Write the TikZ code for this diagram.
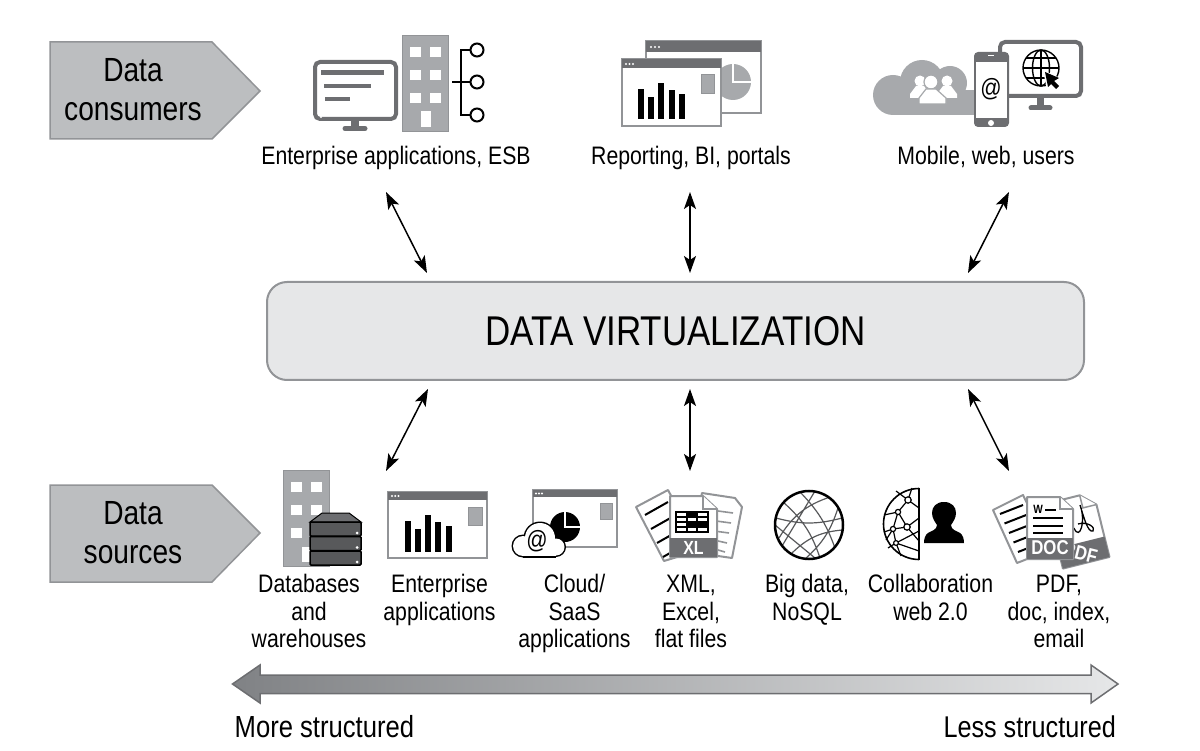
\documentclass[tikz,border=0pt]{standalone}
\usepackage{fontspec}
\setmainfont{Liberation Sans}[FakeStretch=0.84]
\usetikzlibrary{arrows.meta}
\definecolor{lg}{HTML}{A7A9AC}
\definecolor{pg}{HTML}{BCBEC0}
\definecolor{mg}{HTML}{929497}
\definecolor{dg}{HTML}{6D6E71}
\definecolor{vd}{HTML}{58595B}
\definecolor{bx}{HTML}{E6E7E8}
\definecolor{sh}{HTML}{808285}
\tikzset{
 x=1pt,y=-1pt,
 lbl/.style={align=center,inner sep=0pt,font=\fontsize{25.3}{27.5}\selectfont,text=black},
 head/.style={align=center,inner sep=0pt,font=\fontsize{33.5}{39}\selectfont,text=black},
 tag/.style={draw=mg,fill=pg,line width=1.5pt},
 dbl/.style={{Stealth[length=17pt,width=12pt,inset=4pt]}-{Stealth[length=17pt,width=12pt,inset=4pt]},line width=1.5pt,black},
 win/.style={draw=mg,fill=white,line width=2pt},
 wh/.style={fill=white},
 paper/.style={draw=mg,fill=white,line width=2pt,line join=round},
 ink/.style={line width=2pt,black},
 mon/.style={draw=dg,fill=white,line width=4pt,rounded corners=5pt},
 stand/.style={dg,line width=5pt,line cap=round},
}
\newcommand\appwin[5]{\draw[win] (#1,#2) rectangle (#3,#4);\fill[dg] (#1,#2) rectangle (#3,#5);}
\newcommand\tdots[3]{\foreach \k in {0,1,2}{\fill[white] ({#1+\k*#3},#2) circle (1.1);}}
\begin{document}
\begin{tikzpicture}
\useasboundingbox (0,0) rectangle (1200,751);
% tags
\draw[tag] (50,42) -- (212,42) -- (260,91) -- (212,139) -- (50,139) -- cycle;
\node[head] (tagc) at (133,90) {Data\\consumers};
\draw[tag] (50,485) -- (212,485) -- (260,533) -- (212,582) -- (50,582) -- cycle;
\node[head] (tags) at (133,532.5) {Data\\sources};
% main box
\node[draw=mg,fill=bx,line width=2pt,rounded corners=20pt,minimum width=817pt,minimum height=98pt,inner sep=0pt,font=\fontsize{41.6}{41.6}\selectfont] (dv) at (675.5,331) {DATA VIRTUALIZATION};
% connectors
\coordinate (a1) at (386,192);\coordinate (a2) at (427,273);
\coordinate (b1) at (690,192);\coordinate (b2) at (690,273);
\coordinate (c1) at (1009,192);\coordinate (c2) at (968,273);
\coordinate (d1) at (428,389);\coordinate (d2) at (386,471);
\coordinate (e1) at (690,389);\coordinate (e2) at (690,471);
\coordinate (f1) at (968,389);\coordinate (f2) at (1009,471);
\draw[dbl] (a1) -- (a2);\draw[dbl] (b1) -- (b2);\draw[dbl] (c1) -- (c2);
\draw[dbl] (d1) -- (d2);\draw[dbl] (e1) -- (e2);\draw[dbl] (f1) -- (f2);
% labels
\node[lbl] (l1) at (396,159) {\strut Enterprise applications, ESB};
\node[lbl] (l2) at (691,159) {\strut Reporting, BI, portals};
\node[lbl] (l3) at (986,159) {\strut Mobile, web, users};
\node[lbl] (s1) at (309,614.5) {\strut Databases\\and\\warehouses\strut};
\node[lbl] (s2) at (439.5,601) {\strut Enterprise\\applications\strut};
\node[lbl] (s3) at (574.5,614.5) {\strut Cloud/\\SaaS\\applications\strut};
\node[lbl] (s4) at (691,614.5) {\strut XML,\\Excel,\\flat files\strut};
\node[lbl] (s5) at (807,601) {\strut Big data,\\NoSQL\strut};
\node[lbl] (s6) at (930.5,601) {\strut Collaboration\\web 2.0\strut};
\node[lbl] (s7) at (1059,614.5) {\strut PDF,\\doc, index,\\email\strut};
% gradient arrow
\draw[draw=dg,line width=1.5pt,left color=sh,right color=bx,line join=miter]
 (232.5,684) -- (260,665) -- (260,675) -- (1091,675) -- (1091,665) -- (1118,684) -- (1091,703) -- (1091,693.5) -- (260,693.5) -- (260,703) -- cycle;
\node[lbl,anchor=west,font=\fontsize{30.5}{32}\selectfont] (ms) at (234.5,727) {More structured};
\node[lbl,anchor=east,font=\fontsize{30}{32}\selectfont] (ls) at (1116,727) {Less structured};

% === Enterprise apps, ESB icon
\draw[mon] (315,62) rectangle (396,119);
\fill[white] (321,117) circle (1.2);
\fill[dg] (321,70) rectangle (384,75);
\fill[dg] (324,84) rectangle (371,88.5);
\fill[dg] (325,97.5) rectangle (350,101);
\fill[dg] (351,121) rectangle (359,129);
\draw[stand] (345,128.5) -- (365,128.5);
\fill[lg,draw=mg] (402,35) rectangle (448,131);
\foreach \wx in {410,430}\foreach \wy in {47,70,93}{\fill[wh] (\wx,\wy) rectangle ++(11,10);}
\fill[wh] (421,111) rectangle (431,127);
\draw[ink] (452,82) -- (470,82) (477,50) -- (461,50) -- (461,115) -- (477,115);
\foreach \cy in {50,82,115}{\draw[ink,fill=white] (477,\cy) circle (6.5);}

% === Reporting icon
\appwin{646}{41}{761}{113}{52}
\tdots{651}{47}{4}
\fill[lg] (733,82) circle (18);
\draw[white,line width=2pt] (733,62) -- (733,82) -- (753,82);
\appwin{622}{59}{721}{126}{68}
\tdots{626}{64}{3.5}
\fill[lg,draw=mg] (701,74) rectangle (714,93);
\foreach \bx/\by in {638/89,648/97,658/83,669/90,679/94}{\fill[black] (\bx,\by) rectangle ++(6,119-\by);}

% === Mobile/web icon
\fill[lg] (893,95) circle (20);
\fill[lg] (922,82) circle (22);
\fill[lg] (950,83) circle (17);
\fill[lg] (893,90) rectangle (976,115);
\begin{scope}[draw=lg,line width=1.2pt]
\foreach \px/\py/\pr in {920/81/5.5,947/81/5.5}{
 \fill[white] (\px,\py) circle (\pr);
 \fill[white] (\px-4,\py+5) -- (\px+4,\py+5) -- (\px+10,\py+13) -- (\px+10,\py+17) -- (\px-10,\py+17) -- (\px-10,\py+13) -- cycle;}
\draw[fill=white] (931,82) circle (7);
\draw[fill=white] (926,89) -- (936,89) -- (946,98) -- (946,104) -- (919,104) -- (919,98) -- cycle;
\end{scope}
\draw[mon] (1000,42) rectangle (1081,96);
\fill[dg] (1037,96) rectangle (1044,108);
\draw[stand] (1031,108) -- (1050,108);
\fill[dg,rounded corners=4pt] (974,52) rectangle (1009,127);
\fill[white] (976,62) rectangle (1007,118);
\fill[white] (991,123) circle (3);
\draw[white,line width=1pt] (988,56) -- (994,56);
\node[inner sep=0pt,font=\fontsize{25}{25}\selectfont] (at1) at (991,89) {@};
\begin{scope}[line width=1.4pt,black]
\draw (1041,68) circle (18);
\draw (1041,68) ellipse [x radius=8.5,y radius=18];
\draw (1041,50) -- (1041,86) (1023,68) -- (1059,68) (1026,58) -- (1056,58) (1026,78) -- (1056,78);
\end{scope}
\fill[white] (1043,70) -- (1062,79) -- (1060,92) -- (1047,90) -- cycle;
\fill[black] (1045,72) -- (1059,78) -- (1054,81) -- (1059,86) -- (1056,89) -- (1051,84) -- (1048,87) -- cycle;

% === Databases icon
\fill[lg,draw=mg] (283,470) rectangle (329,566);
\foreach \wx/\wy in {291/482,311/482,291/505,311/505,291/528}{\fill[wh] (\wx,\wy) rectangle ++(11,10);}
\fill[wh] (302,547) rectangle (312,562);
\fill[dg,draw=black,line width=1pt] (310,522) -- (322,513) -- (349,513) -- (361,522) -- cycle;
\foreach \ya/\yb in {522/536,536.5/550.5,551/565}{\fill[vd,draw=black,line width=1.5pt,rounded corners=1pt] (310,\ya) rectangle (361,\yb);
 \fill[white] (357,\yb-3) circle (1.5);}

% === Enterprise apps source icon
\appwin{388}{492}{487}{558}{500}
\tdots{392}{496}{3.2}
\fill[lg,draw=mg] (468,507) rectangle (482,525);
\foreach \bx/\by in {405/521,415/529,425/515,435/522,446/526}{\fill[black] (\bx,\by) rectangle ++(6,552-\by);}

% === Cloud/SaaS icon
\appwin{533}{490}{617}{547}{497}
\tdots{536}{493.5}{3}
\fill[lg,draw=mg] (600,503) rectangle (612,519);
\fill[black] (565,527) circle (15);
\draw[white,line width=1.6pt] (565,510) -- (565,527) -- (582,527);
\foreach \cc/\ex in {black/1.5,white/0}{
 \fill[\cc] (523,546) circle ({10+\ex});
 \fill[\cc] (540,538) circle ({15+\ex});
 \fill[\cc] (556,547) circle ({8.5+\ex});
 \fill[\cc] (523,{547-\ex}) rectangle (556,{556+\ex});
}
\node[inner sep=0pt,font=\fontsize{25}{25}\selectfont] (at2) at (537,541) {@};

% === XML, Excel, flat files icon
\draw[paper] (702,493) -- (735,498) -- (742,507) -- (732,558) -- (690,552) -- cycle;
\foreach \ya/\xa/\xb in {511/718/733,521/716/731,531/714/729,541/718/727,550/718/725}{\draw[mg,line width=1.6pt] (\xa,\ya) -- (\xb,\ya+2);}
\draw[paper] (636,507) -- (668,490) -- (700,550) -- (664,561) -- cycle;
\foreach \t in {0,1,2,3}{\draw[ink] ({645+\t*6},{515+\t*14}) -- ({668+\t*6},{502+\t*14});}
\draw[paper] (670,496) -- (703,496) -- (717,509) -- (717,557) -- (670,557) -- cycle;
\draw[mg,line width=1.5pt,fill=white] (703,496) -- (703,509) -- (717,509);
\fill[dg] (670,538) rectangle (717,557);
\node[inner sep=0pt,text=white,font=\fontsize{19}{19}\selectfont\bfseries] (xl) at (693.5,547.5) {XL};
\draw[black,line width=1.2pt] (676,512) rectangle (708,532) (676,517) -- (708,517) (676,522) -- (708,522) (676,527) -- (708,527) (687,512) -- (687,532) (697,512) -- (697,532);
\fill[black] (687,512) rectangle (697,517);
\fill[black] (687,522) rectangle (708,527);

% === Big data globe
\begin{scope}
\clip (809,525) circle (34);
\draw[vd,line width=1.2pt]
 (776,518) to[bend right=15] (842,518)
 (783,502) to[bend left=15] (820,558)
 (800,492) to[bend left=12] (835,548)
 (779,538) to[bend left=20] (830,497)
 (792,553) to[bend left=20] (843,530)
 (838,508) to[bend left=15] (805,559)
 (782,546) -- (815,491)
 (775,525) -- (815,558);
\end{scope}
\draw[black,line width=2.5pt] (809,525) circle (34);

% === Collaboration icon
\begin{scope}
\clip (880,480) rectangle (919,565);
\draw[black,line width=1.6pt] (919,524) circle (35.5);
\draw[black,line width=1.2pt]
 (908,500) -- (898,512) -- (907,527) -- (893,529) -- (898,512)
 (893,529) -- (896,543) -- (919,531) (907,527) -- (919,541) (908,500) -- (919,508) (908,500) -- (896,491) (908,500) -- (912,488)
 (898,512) -- (884,515) (893,529) -- (884,532) (896,543) -- (888,548) (896,543) -- (919,551) (896,543) -- (901,556)
 (907,527) -- (919,518) (893,529) -- (886,540);
\end{scope}
\foreach \nx/\ny/\nr in {908/500/3.2,898/512/2.6,907/527/3.2,893/529/2.6,896/543/2.4}{\draw[black,line width=1.2pt,fill=white] (\nx,\ny) circle (\nr);}
\draw[black,line width=1.6pt] (919,488) -- (919,560);
\fill[black] (944,502) .. controls (936,502) and (932,507) .. (932,513) .. controls (932,518) and (935,522) .. (937,525)
 .. controls (937,530) and (931,531) .. (928,533) .. controls (925,535) and (924,539) .. (924,543) -- (964,543)
 .. controls (964,539) and (963,535) .. (960,533) .. controls (957,531) and (951,530) .. (951,525)
 .. controls (953,522) and (956,518) .. (956,513) .. controls (956,507) and (952,502) .. (944,502) -- cycle;

% === PDF/doc icon
\draw[paper] (993,510) -- (1023,495) -- (1050,550) -- (1017,563) -- cycle;
\foreach \t in {0,1,2,3,4}{\draw[ink] ({1000+\t*4.5},{514+\t*9.5}) -- ({1023+\t*4.5},{505+\t*9.5});}
\begin{scope}[rotate around={14:(1077,530)}]
\draw[paper] (1054,497) -- (1088,497) -- (1102,510) -- (1102,564) -- (1054,564) -- cycle;
\draw[mg,line width=1.5pt,fill=white] (1088,497) -- (1088,510) -- (1102,510);
\fill[dg] (1054,543) rectangle (1102,564);
\node[inner sep=0pt,text=white,rotate=-14,font=\fontsize{20}{20}\selectfont\bfseries] (pdf) at (1075,553) {PDF};
\end{scope}
\draw[black,line width=1.3pt] (1080,505) .. controls (1086,520) and (1080,542) .. (1074,528) (1078,524) .. controls (1088,521) and (1096,528) .. (1093,531) .. controls (1088,533) and (1084,518) .. (1080,505);
\draw[paper] (1027,497) -- (1060,497) -- (1073,509) -- (1073,559) -- (1027,559) -- cycle;
\draw[mg,line width=1.5pt,fill=white] (1060,497) -- (1060,509) -- (1073,509);
\fill[dg] (1027,538) rectangle (1073,559);
\node[inner sep=0pt,text=white,font=\fontsize{20}{20}\selectfont\bfseries] (doc) at (1050,548) {DOC};
\node[inner sep=0pt,font=\fontsize{12}{12}\selectfont\bfseries] (w) at (1038,509) {W};
\draw[ink] (1045,510) -- (1056,510) (1033,518) -- (1063,518) (1033,526) -- (1063,526) (1033,533) -- (1063,533);
\end{tikzpicture}
\end{document}
